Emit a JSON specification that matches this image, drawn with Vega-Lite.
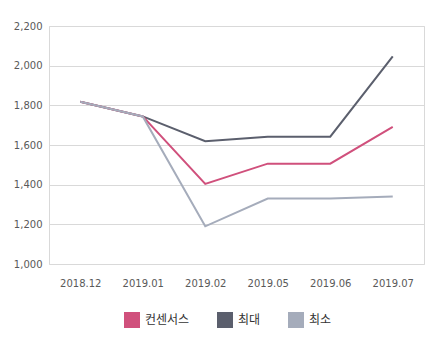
{
  "$schema": "https://vega.github.io/schema/vega-lite/v6.json",
  "width": 375,
  "height": 238,
  "autosize": {"type": "none"},
  "padding": {"left": 49, "top": 26, "right": 20, "bottom": 88},
  "background": "#ffffff",
  "config": {
    "view": {"stroke": "#d9d9d9", "strokeWidth": 1},
    "font": "DejaVu Sans"
  },
  "data": {
    "values": [
      {"month": "2018.12", "series": "최대", "value": 1818},
      {"month": "2019.01", "series": "최대", "value": 1744},
      {"month": "2019.02", "series": "최대", "value": 1619},
      {"month": "2019.05", "series": "최대", "value": 1642},
      {"month": "2019.06", "series": "최대", "value": 1642},
      {"month": "2019.07", "series": "최대", "value": 2047},
      {"month": "2018.12", "series": "컨센서스", "value": 1818},
      {"month": "2019.01", "series": "컨센서스", "value": 1744},
      {"month": "2019.02", "series": "컨센서스", "value": 1404},
      {"month": "2019.05", "series": "컨센서스", "value": 1506},
      {"month": "2019.06", "series": "컨센서스", "value": 1506},
      {"month": "2019.07", "series": "컨센서스", "value": 1691},
      {"month": "2018.12", "series": "최소", "value": 1818},
      {"month": "2019.01", "series": "최소", "value": 1744},
      {"month": "2019.02", "series": "최소", "value": 1190},
      {"month": "2019.05", "series": "최소", "value": 1330},
      {"month": "2019.06", "series": "최소", "value": 1330},
      {"month": "2019.07", "series": "최소", "value": 1340}
    ]
  },
  "mark": {"type": "line", "strokeWidth": 2},
  "encoding": {
    "x": {
      "field": "month",
      "type": "ordinal",
      "sort": null,
      "scale": {"type": "point", "padding": 0.5},
      "axis": {
        "title": null,
        "labelAngle": 0,
        "ticks": false,
        "domain": false,
        "grid": false,
        "labelPadding": 14,
        "labelFontSize": 10,
        "labelColor": "#595959",
        "labelFont": "DejaVu Sans"
      }
    },
    "y": {
      "field": "value",
      "type": "quantitative",
      "scale": {"domain": [1000, 2200], "nice": false, "zero": false},
      "axis": {
        "title": null,
        "values": [1000, 1200, 1400, 1600, 1800, 2000, 2200],
        "format": ",.0f",
        "ticks": false,
        "domain": false,
        "gridColor": "#d9d9d9",
        "labelPadding": 7,
        "labelFontSize": 10,
        "labelColor": "#595959",
        "labelFont": "DejaVu Sans"
      }
    },
    "color": {
      "field": "series",
      "type": "nominal",
      "scale": {
        "domain": ["컨센서스", "최대", "최소"],
        "range": ["#d0507c", "#5b5f6d", "#a5acbb"]
      },
      "legend": {
        "title": null,
        "orient": "none",
        "direction": "horizontal",
        "legendX": 75,
        "legendY": 286,
        "symbolType": "square",
        "symbolSize": 256,
        "symbolStrokeWidth": 0,
        "symbolOpacity": 1,
        "labelFont": "Noto Sans CJK KR",
        "labelFontSize": 12,
        "labelColor": "#333333",
        "labelOffset": 5,
        "columnPadding": 27,
        "encode": {
          "symbols": {
            "update": {
              "fill": {"scale": "color", "field": "value"},
              "fillOpacity": {"value": 1}
            }
          }
        }
      }
    }
  }
}
